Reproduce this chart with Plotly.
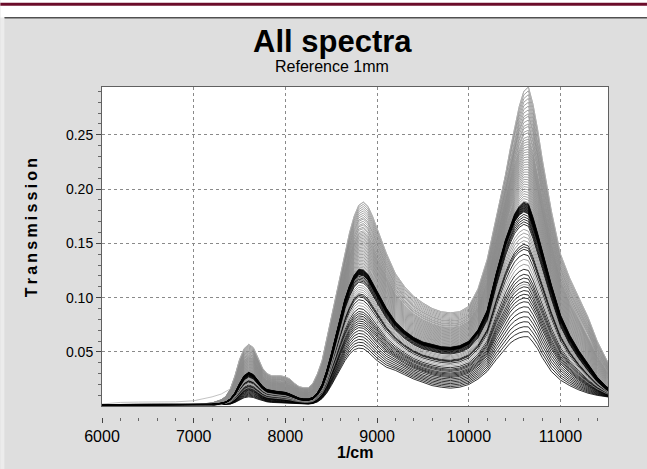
import plotly.graph_objects as go

# ---------------- data ----------------
wavenumber = [6000, 6200, 6400, 6600, 6800, 7000, 7100, 7200, 7300,
              7350, 7400, 7450, 7500, 7550, 7600, 7650, 7700, 7750, 7800,
              7850, 7900, 7950, 8000, 8050, 8100, 8150, 8200, 8250, 8300,
              8350, 8400, 8450, 8500, 8550, 8600, 8650, 8700, 8750, 8800,
              8850, 8900, 8950, 9000,
              9100, 9200, 9300, 9400, 9500, 9600, 9700, 9800, 9900, 10000,
              10100, 10200, 10300, 10400,
              10450, 10500, 10550, 10600, 10650, 10700, 10750, 10800,
              10900, 11000, 11100, 11200, 11300, 11400, 11500, 11520]

# upper envelope of the grey spectra
profile_top = [0.0015, 0.0015, 0.0015, 0.0015, 0.0015, 0.0018, 0.0022, 0.003, 0.006,
               0.009, 0.016, 0.028, 0.043, 0.053, 0.057, 0.054, 0.045, 0.035, 0.030,
               0.028, 0.028, 0.028, 0.027, 0.025, 0.021, 0.018, 0.017, 0.017, 0.021,
               0.030, 0.042, 0.062, 0.081, 0.101, 0.122, 0.142, 0.160, 0.175, 0.185,
               0.188, 0.184, 0.175, 0.163,
               0.141, 0.122, 0.110, 0.101, 0.095, 0.090, 0.087, 0.086, 0.087, 0.092,
               0.108, 0.135, 0.174, 0.213,
               0.236, 0.257, 0.276, 0.290, 0.294, 0.278, 0.255, 0.228,
               0.180, 0.140, 0.118, 0.100, 0.082, 0.060, 0.043, 0.040]

# dense black band
profile_mid = [0.0012, 0.0012, 0.0012, 0.0012, 0.0012, 0.0012, 0.0013, 0.0016, 0.0025,
               0.0035, 0.006, 0.011, 0.019, 0.026, 0.029, 0.027, 0.022, 0.017, 0.014,
               0.013, 0.0125, 0.012, 0.0115, 0.010, 0.008, 0.0065, 0.0058, 0.0058, 0.007,
               0.011, 0.018, 0.030, 0.045, 0.062, 0.079, 0.095, 0.107, 0.116, 0.121,
               0.120, 0.116, 0.109, 0.101,
               0.086, 0.074, 0.066, 0.060, 0.056, 0.054, 0.052, 0.0515, 0.053, 0.057,
               0.067, 0.084, 0.118, 0.148,
               0.160, 0.170, 0.176, 0.179, 0.177, 0.165, 0.151, 0.136,
               0.106, 0.079, 0.061, 0.047, 0.035, 0.024, 0.016, 0.015]

# lowest black spectrum
profile_low = [0.001, 0.001, 0.001, 0.001, 0.001, 0.001, 0.001, 0.001, 0.0015,
               0.0018, 0.002, 0.0035, 0.006, 0.0078, 0.0086, 0.008, 0.0065, 0.005, 0.004,
               0.0035, 0.0033, 0.0032, 0.003, 0.0028, 0.0025, 0.0022, 0.002, 0.002, 0.0025,
               0.004, 0.007, 0.012, 0.019, 0.027, 0.035, 0.042, 0.048, 0.052, 0.0535,
               0.053, 0.050, 0.046, 0.042,
               0.036, 0.033, 0.029, 0.025, 0.022, 0.019, 0.0175, 0.0166, 0.0175, 0.020,
               0.025, 0.032, 0.043, 0.053,
               0.058, 0.061, 0.063, 0.064, 0.064, 0.059, 0.053, 0.045,
               0.032, 0.024, 0.019, 0.015, 0.012, 0.010, 0.0086, 0.0085]

# early part (6000-7350) of the single light outlier spectrum
outlier_start = [0.002, 0.0035, 0.0038, 0.0036, 0.004, 0.005, 0.0065, 0.0086, 0.0112, 0.0135]

# position of each grey spectrum between the black band (0) and the top (1)
grey_upper_w = [1.0, 0.97, 0.94, 0.91, 0.88, 0.85, 0.82, 0.79, 0.77, 0.74, 0.71, 0.69,
                0.66, 0.64, 0.61, 0.59, 0.57, 0.55, 0.53, 0.51, 0.49, 0.47, 0.45, 0.43,
                0.41, 0.39, 0.37, 0.35, 0.33, 0.31, 0.29, 0.27, 0.25, 0.23, 0.21, 0.19,
                0.17, 0.15, 0.13, 0.11, 0.09, 0.07]
# grey spectra between the lowest (0) and the black band (1)
grey_lower_w = [0.86, 0.83, 0.80, 0.77, 0.62, 0.58, 0.42]
# scattered black spectra between the lowest (0) and the band (1)
black_lower_w = [0.0, 0.04, 0.08, 0.12, 0.16, 0.2, 0.24, 0.28, 0.31, 0.34, 0.37,
                 0.4, 0.44, 0.47, 0.5, 0.54, 0.66, 0.7, 0.72, 0.74]
# lower edge of the dense black band (between lowest (0) and band (1))
black_band_low_w = [0.90, 0.92, 0.94, 0.96, 0.98]
# dense black band: slight offsets above the band (towards the top)
black_band_w = [0.0, 0.006, 0.012, 0.018, 0.024, 0.03, 0.036, 0.042, 0.048, 0.054,
                0.06, 0.066, 0.072, 0.08]

# ---------------- figure ----------------
W, H = 647, 469
PL, PR, PT, PB = 101.7, 608.0, 87.3, 406.0
TICK_Y = 417.0
FONT = "Liberation Sans, Arial, sans-serif"


def px_x(px):
    return (px - PL) / (PR - PL)


def px_y(py):
    return (TICK_Y - py) / (TICK_Y - PT)


def mix(a, b, w):
    return [p + (q - p) * w for p, q in zip(a, b)]


fig = go.Figure()


def add(y, color, width=0.8):
    fig.add_trace(go.Scatter(x=wavenumber, y=y, mode="lines",
                             line=dict(color=color, width=width),
                             hoverinfo="skip", showlegend=False))


GREY = "#8c8c8c"
for w in grey_upper_w:
    add(mix(profile_mid, profile_top, w), GREY)
add(outlier_start + profile_top[len(outlier_start):], "#b4b4b4")
for w in black_lower_w:
    add(mix(profile_low, profile_mid, w), "#000000")
for w in grey_lower_w:
    add(mix(profile_low, profile_mid, w), GREY)
for w in black_band_low_w:
    add(mix(profile_low, profile_mid, w), "#000000")
for w in black_band_w:
    add(mix(profile_mid, profile_top, w), "#000000")

# helper axis for the detached tick marks
fig.add_trace(go.Scatter(x=[], y=[], xaxis="x2", yaxis="y", showlegend=False))

XR = [6000, 11518]
fig.update_layout(
    width=W, height=H,
    margin=dict(l=PL, r=W - PR, t=PT, b=H - TICK_Y, pad=0),
    paper_bgcolor="#dedede", plot_bgcolor="#ffffff",
    font=dict(family=FONT, color="#000000"),
    xaxis=dict(range=XR, anchor="y", dtick=1000, tick0=6000,
               showgrid=True, gridcolor="#8a8a8a", griddash="dot", gridwidth=1,
               showticklabels=False, ticks="", zeroline=False,
               showline=True, mirror=True, linecolor="#606060", linewidth=1),
    xaxis2=dict(range=XR, overlaying="x", anchor="free", position=0, side="bottom",
                dtick=1000, tick0=6000, tickformat="d",
                ticks="outside", ticklen=5, tickwidth=1,
                tickcolor="#444444", showgrid=False, showline=False, zeroline=False,
                tickfont=dict(size=16, family=FONT, color="#000000"),
                minor=dict(dtick=200, tick0=6000, ticks="outside", ticklen=3,
                           tickcolor="#666666", showgrid=False)),
    yaxis=dict(range=[0.0002, 0.294], domain=[px_y(PB), 1],
               dtick=0.05, tick0=0, tickformat=".2f",
               ticks="outside", ticklen=5, tickcolor="#444444",
               minor=dict(dtick=0.01, ticks="outside", ticklen=3, tickcolor="#666666",
                          showgrid=False),
               showgrid=True, gridcolor="#8a8a8a", griddash="dot", gridwidth=1,
               zeroline=False, showline=True, mirror=True, linecolor="#606060",
               linewidth=1, tickfont=dict(size=14, family=FONT, color="#000000")),
)

# page decoration: white top strip, maroon rule, grey panel border
x0, x1 = px_x(0), px_x(W)
fig.add_shape(type="rect", xref="paper", yref="paper", x0=x0, x1=x1,
              y0=px_y(18), y1=px_y(0), fillcolor="#ffffff", line_width=0, layer="below")
fig.add_shape(type="rect", xref="paper", yref="paper", x0=x0, x1=x1,
              y0=px_y(6.2), y1=px_y(3.2), fillcolor="#6b0c2a", line_width=0)
fig.add_shape(type="line", xref="paper", yref="paper", x0=px_x(4), x1=x1,
              y0=px_y(18), y1=px_y(18), line=dict(color="#505050", width=1.5))
fig.add_shape(type="rect", xref="paper", yref="paper", x0=x0, x1=px_x(4),
              y0=px_y(H), y1=px_y(18), fillcolor="#ececec", line_width=0)


def label(text, cx, cy, size, angle=0):
    fig.add_annotation(text=text, xref="paper", yref="paper",
                       x=px_x(cx), y=px_y(cy), xanchor="center", yanchor="middle",
                       textangle=angle, showarrow=False,
                       font=dict(size=size, family=FONT, color="#000000"))


label("<b>All spectra</b>", 332, 42, 31)
label("Reference 1mm", 332, 67, 16)
label("<b>" + "\u2009".join("Transmission") + "</b>", 31, 228, 16, angle=-90)
label("<b>1/cm</b>", 355, 452, 16)

fig.write_html("out.html")
